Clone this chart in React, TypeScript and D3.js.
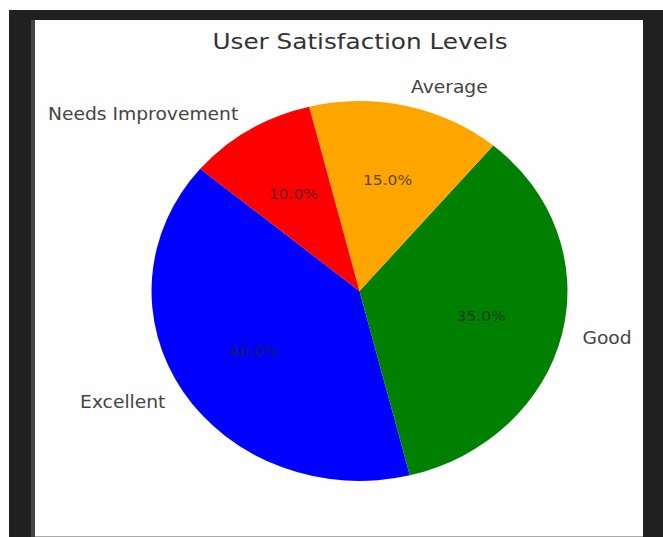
import React from "react";
import * as d3 from "d3";

const categories = ["Excellent", "Good", "Average", "Needs Improvement"];
const shares = [40, 35, 15, 10];
const colors = ["#0000ff", "#008000", "#ffa500", "#ff0000"];
const titleText = "User Satisfaction Levels";

export default function App() {
  const W = 663;
  const H = 537;
  const cx = 359.5;
  const cy = 291;
  const rx = 208;
  const ry = 190;
  const startDeg = 140;

  const total = d3.sum(shares);
  const angle = d3.scaleLinear().domain([0, total]).range([0, 360]);

  const cum = d3.cumsum(shares);
  const slices = shares.map((v, i) => {
    const a0 = startDeg + angle(cum[i] - v);
    const a1 = startDeg + angle(cum[i]);
    return { v, i, a0, a1 };
  });

  const toD3 = (deg: number) => ((90 - deg) * Math.PI) / 180;
  const arcGen = d3.arc<any>().innerRadius(0).outerRadius(1);

  const pt = (deg: number, f: number) => {
    const r = (deg * Math.PI) / 180;
    return [cx + Math.cos(r) * rx * f, cy - Math.sin(r) * ry * f];
  };

  return (
    <svg
      width={W}
      height={H}
      style={{ position: "fixed", left: 0, top: 0, fontFamily: "DejaVu Sans, sans-serif" }}
    >
      <rect x={0} y={0} width={W} height={H} fill="#ffffff" />
      <rect x={9} y={10} width={W - 9} height={H - 10} fill="#202020" />
      <rect x={31} y={20} width={4} height={H - 20} fill="#444444" />
      <rect x={35} y={20} width={608} height={517} fill="#aaaaaa" />
      <rect x={35} y={20} width={608} height={516} fill="#fefefe" />
      <text
        transform={`translate(360,49) scale(1.15,1)`}
        textAnchor="middle"
        fontSize={21.5}
        fill="#333"
      >
        {titleText}
      </text>
      <g transform={`translate(${cx},${cy}) scale(${rx},${ry})`}>
        {slices.map((s) => (
          <path
            key={s.i}
            d={arcGen({ startAngle: toD3(s.a1), endAngle: toD3(s.a0) }) as string}
            fill={colors[s.i]}
          />
        ))}
      </g>
      {slices.map((s) => {
        const mid = (s.a0 + s.a1) / 2;
        const [lx, ly] = pt(mid, 1.1);
        const [px, py] = pt(mid, 0.6);
        const c = Math.cos((mid * Math.PI) / 180);
        return (
          <g key={s.i}>
            <text
              transform={`translate(${lx},${ly}) scale(1.1,1)`}
              dy="0.35em"
              textAnchor={c >= 0 ? "start" : "end"}
              fontSize={17}
              fill="#444"
            >
              {categories[s.i]}
            </text>
            <text
              transform={`translate(${px},${py}) scale(1.15,1)`}
              dy="0.35em"
              textAnchor="middle"
              fontSize={13.5}
              fill="#222"
              fillOpacity={0.75}
            >
              {`${s.v.toFixed(1)}%`}
            </text>
          </g>
        );
      })}
    </svg>
  );
}
